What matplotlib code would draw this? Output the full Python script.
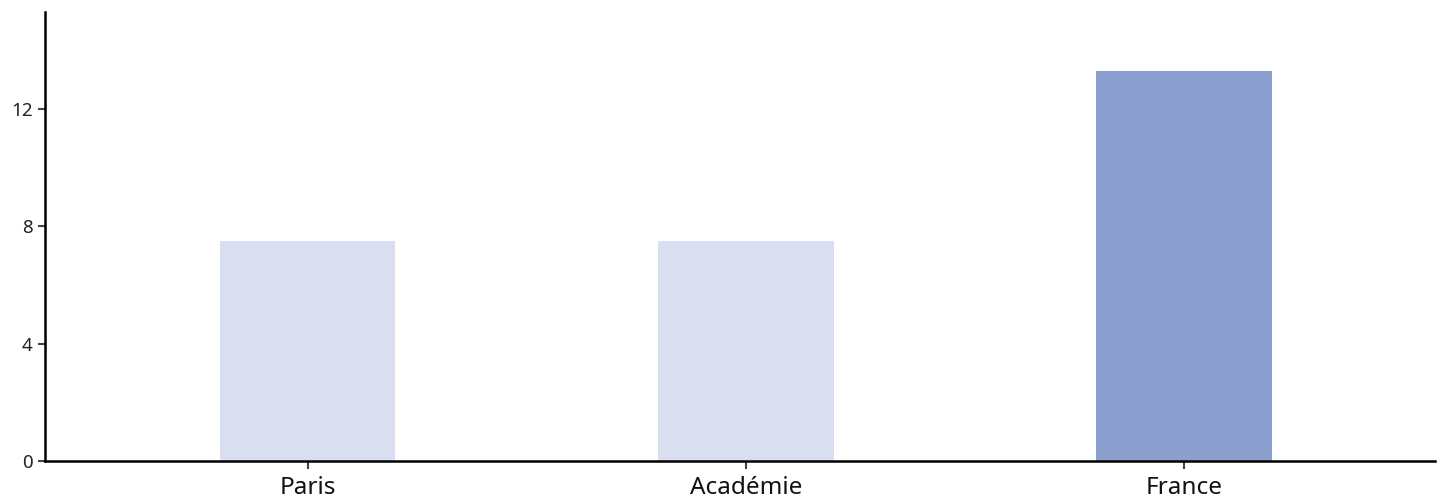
import matplotlib
matplotlib.use("Agg")
import matplotlib.pyplot as plt

categories = ["Paris", "Académie", "France"]
values = [7.5, 7.5, 13.3]
colors = ["#d9dff0", "#d9dff0", "#8b9fcf"]
yticks = [0, 4, 8, 12]

plt.rcParams['font.family'] = ['Noto Sans', 'DejaVu Sans']

fig = plt.figure(figsize=(14.54, 5.01), dpi=100)
ax = fig.add_axes([45/1454, 40/501, 1390/1454, 449/501])
x = list(range(len(categories)))
ax.bar(x, values, width=0.40, color=colors)
ax.set_xlim(-0.6, 2.573)
ax.set_ylim(0, 15.3)
ax.set_yticks(yticks)
ax.set_yticklabels([str(t) for t in yticks], fontsize=13.5, color="#222222")
ax.set_xticks(x)
ax.set_xticklabels(categories, fontsize=17.5, color="#111111")
ax.spines['top'].set_visible(False)
ax.spines['right'].set_visible(False)
for s in ['left', 'bottom']:
    ax.spines[s].set_linewidth(1.8)
    ax.spines[s].set_color('black')
ax.tick_params(axis='y', length=5, width=1.5, color="#444444", pad=4)
ax.tick_params(axis='x', length=6, width=1.5, color="#444444", pad=5)
fig.savefig("out.png", dpi=100)
